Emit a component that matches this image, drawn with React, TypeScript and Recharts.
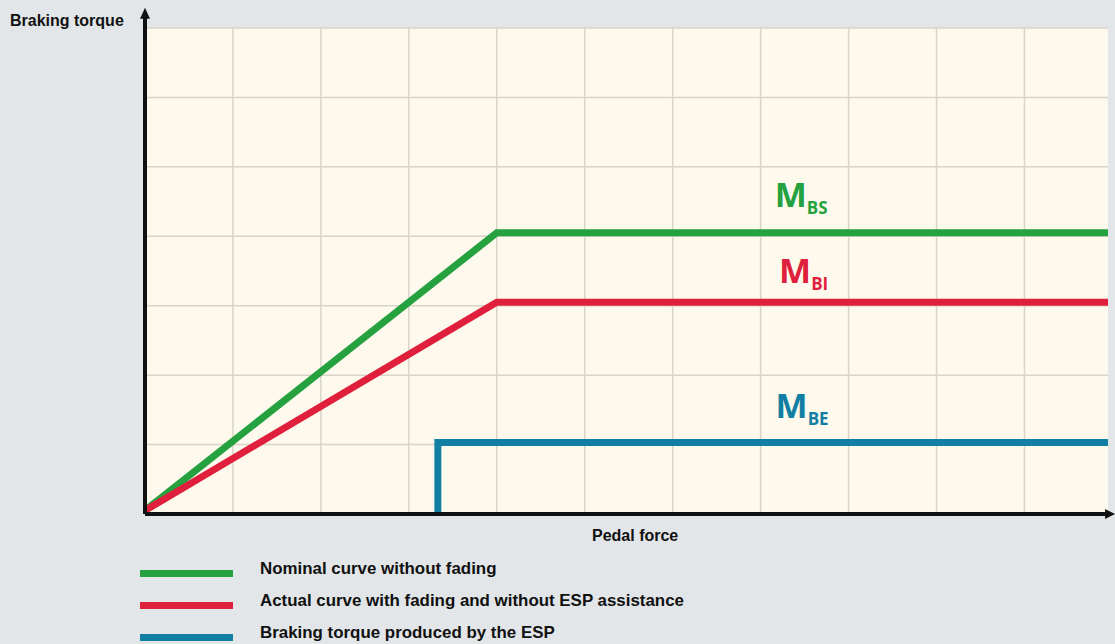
import React from 'react';
import { LineChart, Line, XAxis, YAxis, CartesianGrid, ReferenceLine, ReferenceDot } from 'recharts';

// Pedal force (x) and braking torque (y), in grid units
const xTicks = [0, 1, 2, 3, 4, 5, 6, 7, 8, 9, 10];
const yTicks = [0, 1, 2, 3, 4, 5, 6, 7];

const forceX = [0, 4, 10.95];
const nominalTorque = [0.05, 4.05, 4.05];
const actualTorque = [0.05, 3.05, 3.05];
const espForceX = [3.33, 3.33, 10.95];
const espTorque = [0, 1.03, 1.03];

const seriesNames = [
  'Nominal curve without fading',
  'Actual curve with fading and without ESP assistance',
  'Braking torque produced by the ESP',
];
const seriesSubscripts = ['BS', 'BI', 'BE'];
const seriesColors = ['#25a23f', '#df1f3c', '#117fa3'];
// annotation anchors (force, torque) for the M labels
const labelX = [7.16, 7.21, 7.17];
const labelY = [4.42, 3.33, 1.38];

const nominalData = forceX.map((f, i) => ({ f, t: nominalTorque[i] }));
const actualData = forceX.map((f, i) => ({ f, t: actualTorque[i] }));
const espData = espForceX.map((f, i) => ({ f, t: espTorque[i] }));
const seriesData = [nominalData, actualData, espData];

const FONT = '"Liberation Sans", Arial, sans-serif';
const GRID = '#d9d4c8';

const makeMLabel = (i: number) => (p: any) => (
  <text x={p.cx} y={p.cy} fill={seriesColors[i]} fontFamily='"Open Sans", sans-serif' fontWeight={700}>
    <tspan fontSize={34}>M</tspan>
    <tspan fontSize={17} dy={7}>{seriesSubscripts[i]}</tspan>
  </text>
);

const ArrowRight = (p: any) => (
  <polygon points={`${p.cx},${p.cy} ${p.cx - 10},${p.cy - 5} ${p.cx - 10},${p.cy + 5}`} fill="#111" />
);
const ArrowUp = (p: any) => (
  <polygon points={`${p.cx},${p.cy} ${p.cx - 5},${p.cy + 11} ${p.cx + 5},${p.cy + 11}`} fill="#111" />
);

export default function App() {
  return (
    <div style={{ position: 'absolute', left: 0, top: 0, width: 1115, height: 644, background: '#e2e6e8', overflow: 'hidden', fontFamily: FONT }}>
      <LineChart width={1115} height={644} margin={{ top: 28, right: 7, bottom: 130, left: 145 }}>
        <CartesianGrid fill="#fdf9ec" horizontal={false} vertical={false} />
        <XAxis type="number" dataKey="f" domain={[0, 10.95]} ticks={xTicks} height={0} tick={false} tickLine={false} axisLine={false} allowDataOverflow />
        <YAxis type="number" dataKey="t" domain={[0, 7]} ticks={yTicks} width={0} tick={false} tickLine={false} axisLine={false} allowDataOverflow />
        {xTicks.slice(1).map((t) => (
          <ReferenceLine key={'gx' + t} x={t} stroke={GRID} strokeWidth={1.5} />
        ))}
        {yTicks.slice(1).map((t) => (
          <ReferenceLine key={'gy' + t} y={t} stroke={GRID} strokeWidth={1.5} />
        ))}
        {seriesData.map((d, i) => (
          <Line
            key={i}
            data={d}
            dataKey="t"
            name={seriesNames[i]}
            type="linear"
            stroke={seriesColors[i]}
            strokeWidth={7}
            strokeLinejoin="miter"
            strokeLinecap="butt"
            dot={false}
            activeDot={false}
            isAnimationActive={false}
          />
        ))}
        <ReferenceLine segment={[{ x: 0, y: 0 }, { x: 10.95, y: 0 }]} stroke="#111" strokeWidth={4} ifOverflow="visible" />
        <ReferenceLine segment={[{ x: 0, y: 0 }, { x: 0, y: 7.15 }]} stroke="#111" strokeWidth={4} ifOverflow="visible" />
        <ReferenceDot x={11.03} y={0} r={0} shape={ArrowRight} ifOverflow="visible" />
        <ReferenceDot x={0} y={7.29} r={0} shape={ArrowUp} ifOverflow="visible" />
        {labelX.map((x, i) => (
          <ReferenceDot key={'m' + i} x={x} y={labelY[i]} r={0} shape={makeMLabel(i)} ifOverflow="visible" />
        ))}
      </LineChart>
      <div style={{ position: 'absolute', left: 10, top: 13, fontSize: 16, lineHeight: '16px', fontWeight: 700, color: '#111', whiteSpace: 'nowrap' }}>
        Braking torque
      </div>
      <div style={{ position: 'absolute', left: 592, top: 528, fontSize: 16, lineHeight: '16px', fontWeight: 700, color: '#111', whiteSpace: 'nowrap' }}>
        Pedal force
      </div>
      {seriesNames.map((n, i) => (
        <div key={n} style={{ position: 'absolute', left: 140, top: 561 + i * 32, height: 16, whiteSpace: 'nowrap' }}>
          <div style={{ position: 'absolute', left: 0, top: 9, width: 93, height: 7, background: seriesColors[i] }} />
          <div style={{ position: 'absolute', left: 120, top: 0, fontSize: 16.9, lineHeight: '16px', fontWeight: 700, color: '#111' }}>{n}</div>
        </div>
      ))}
    </div>
  );
}
